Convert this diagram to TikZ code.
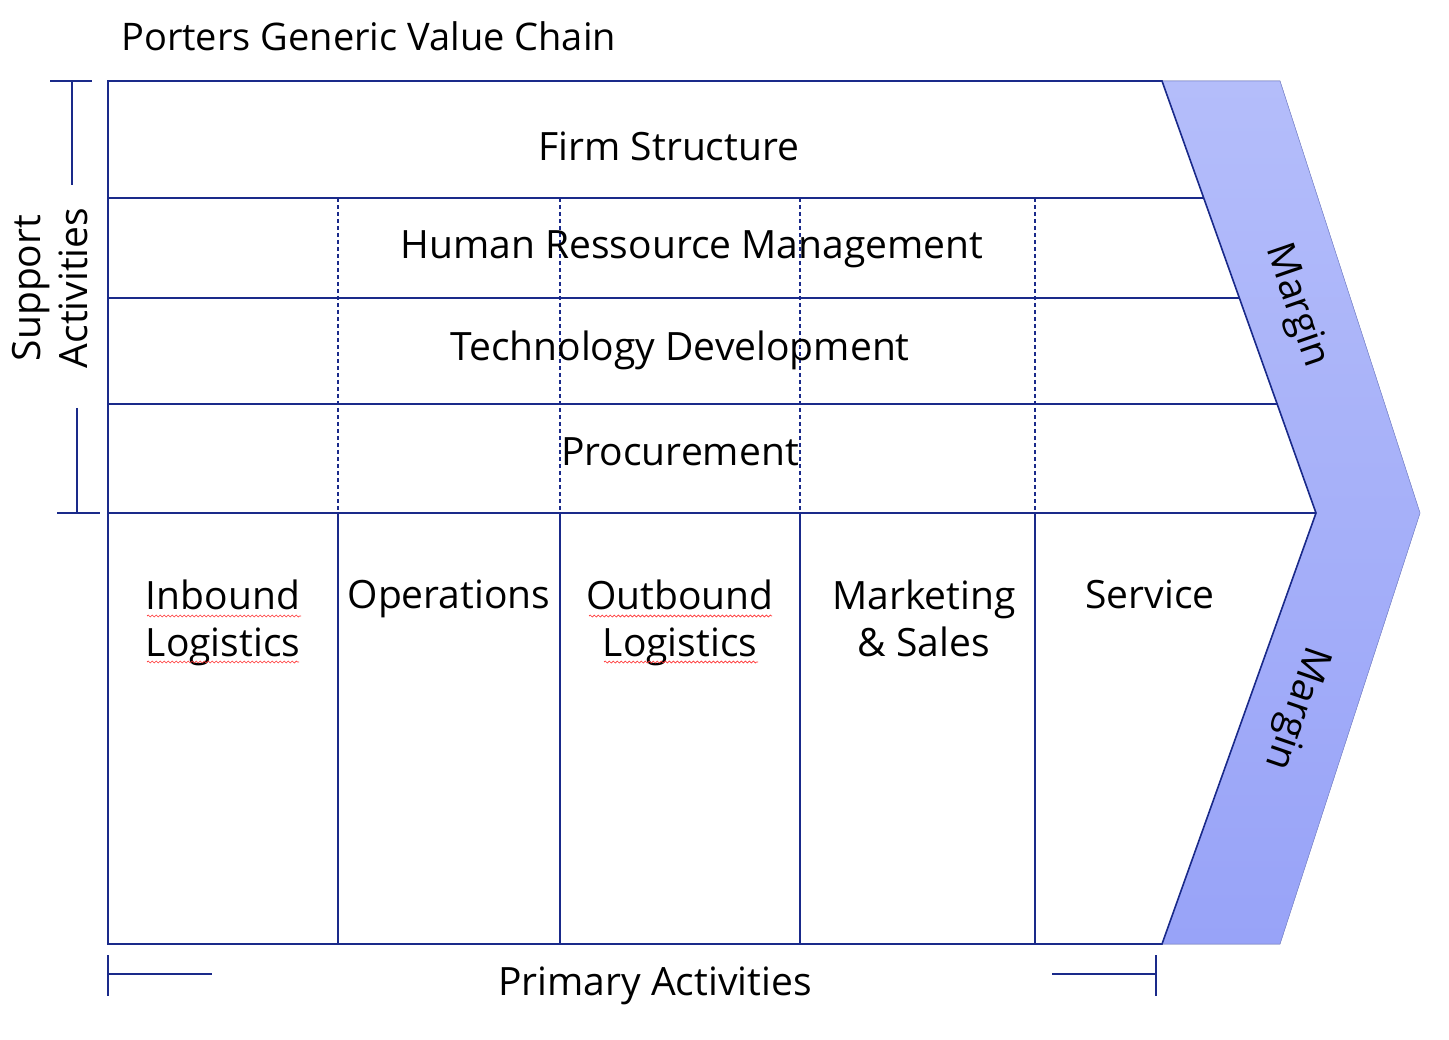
\documentclass[tikz,border=0pt]{standalone}
\usepackage{fontspec}
\setmainfont{Open Sans}
\usetikzlibrary{decorations.pathmorphing}
\definecolor{ln}{HTML}{1A2A8A}
\definecolor{ctop}{HTML}{B4BDFA}
\definecolor{cbot}{HTML}{98A3F8}
\tikzset{
 ln/.style={draw=ln,line width=1.6pt},
 dl/.style={draw=ln,line width=1.2pt,dash pattern=on 4pt off 3pt},
 lab/.style={font=\fontsize{39}{47}\selectfont,align=center,inner sep=0},
 sq/.style={draw=red!80,line width=0.7pt,decorate,decoration={snake,amplitude=1pt,segment length=4pt}}
}
\begin{document}
\begin{tikzpicture}[x=1pt,y=-1pt]
\useasboundingbox (0,0) rectangle (1449,1040);
\fill[top color=ctop,bottom color=cbot,draw=ctop!70!ln,line width=0.6pt] (1162,81) -- (1280,81) -- (1420,513) -- (1280,944) -- (1162,944) -- (1316,513) -- cycle;
\draw[ln] (1162,81) -- (108,81) -- (108,944) -- (1162,944) -- (1316,513) -- cycle;
\draw[ln] (108,198) -- (1204,198);
\draw[ln] (108,298) -- (1240,298);
\draw[ln] (108,404) -- (1278,404);
\draw[ln] (108,513) -- (1316,513);
\foreach \x in {338,560,800,1035}{
 \draw[dl] (\x,198) -- (\x,513);
 \draw[ln] (\x,513) -- (\x,944);}
\node[font=\fontsize{38}{44}\selectfont,anchor=west,inner sep=0] (title) at (121,36) {Porters Generic Value Chain};
\node[lab] (fs) at (669,146) {Firm Structure};
\node[lab] (hr) at (692,249) {Human Ressource Management};
\node[lab] (td) at (680,350) {Technology Development};
\node[lab] (pr) at (680,452) {Procurement};
\node[lab,anchor=north] (il) at (223,580) {Inbound\\Logistics};
\node[lab,anchor=north] (op) at (449,580) {Operations};
\node[lab,anchor=north] (ol) at (680,580) {Outbound\\Logistics};
\node[lab,anchor=north] (ms) at (924,580) {Marketing\\\& Sales};
\node[lab,anchor=north] (sv) at (1150,580) {Service};
\draw[sq] (147,616) -- (301,616); \draw[sq] (147,662) -- (299,662);
\draw[sq] (589,616) -- (772,616); \draw[sq] (604,662) -- (758,662);
\node[lab,rotate=-71] (m1) at (1296,306) {Margin};
\node[lab,rotate=-109] (m2) at (1296,708) {Margin};
\node[lab,rotate=90] (sa) at (50,288) {Support\\Activities};
\node[lab] (pa) at (655,986) {Primary Activities};
\draw[ln] (50,81) -- (92,81); \draw[ln] (72,81) -- (72,185);
\draw[ln] (77,408) -- (77,513); \draw[ln] (57,513) -- (100,513);
\draw[ln] (108,955) -- (108,996); \draw[ln] (108,974) -- (212,974);
\draw[ln] (1052,974) -- (1156,974); \draw[ln] (1156,955) -- (1156,996);
\end{tikzpicture}
\end{document}
